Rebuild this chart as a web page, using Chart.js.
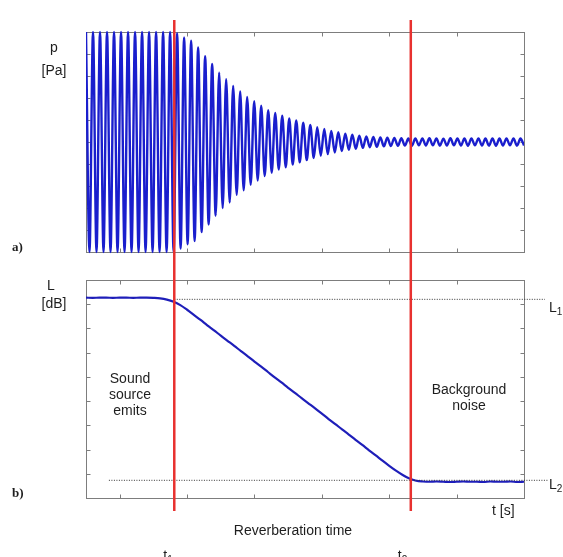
<!DOCTYPE html>
<html><head><meta charset="utf-8">
<script src="https://cdn.jsdelivr.net/npm/chart.js@4/dist/chart.umd.min.js"></script>
<style>html,body{margin:0;padding:0;background:#fff;}#wrap{position:relative;width:563px;height:557px;}</style>
</head><body><div id="wrap"><canvas id="c" width="563" height="557"></canvas></div>
<script>
// ---- data ----
const signalStep = 0.052; // time between successive extremes of p(t)
const pressureExtremes = [
 1,-1,1,-1,1,-1,1,-1,1,-1,1,-1,1,-1,1,-1,1,-1,1,-1,1,-1,1,-1,1,-1,
 0.99,-0.97,0.95,-0.93,0.92,-0.90,0.86,-0.82,0.78,-0.75,0.71,-0.67,0.63,-0.60,
 0.57,-0.55,0.51,-0.48,0.46,-0.44,0.41,-0.39,0.37,-0.35,0.33,-0.31,0.29,-0.28,
 0.265,-0.25,0.24,-0.23,0.215,-0.205,0.195,-0.185,0.175,-0.165,0.155,-0.145,
 0.135,-0.125,0.118,-0.11,0.10,-0.095,0.088,-0.082,0.076,-0.07,0.066,-0.062,
 0.058,-0.054,0.05,-0.048,0.046,-0.044,0.042,-0.04,0.038,-0.037,0.036,-0.035,0.034,
 -0.033,0.031,-0.034,0.032,-0.03,0.033,-0.032,0.034,-0.031,0.032,-0.033,0.03,
 -0.032,0.034,-0.031,0.033,-0.032,0.031,-0.034,0.032,-0.03,0.033,-0.032,0.031,
 -0.033,0.032,-0.034,0.031,-0.032,0.033,-0.03,0.032,-0.033,0.031,-0.032
];
const levelTimes = [0,0.1,0.2,0.3,0.4,0.5,0.6,0.7,0.8,0.9,1.0,1.1,1.2,1.3,1.4,1.5,1.6,1.7,1.8,1.9,
 2.0,2.1,2.2,2.3,2.4,2.5,2.6,2.7,2.8,2.9,3.0,3.1,3.2,3.3,3.4,3.5,3.6,3.7,3.8,3.9,
 4.0,4.1,4.2,4.3,4.4,4.5,4.6,4.7,4.8,4.9,5.0,5.1,5.2,5.3,5.4,5.5,5.6,5.7,5.8,5.9,
 6.0,6.1,6.2,6.3,6.4,6.5];
const levelValues = [82.7,82.6,82.7,82.7,82.6,82.7,82.7,82.6,82.7,82.7,82.6,82.4,81.9,81.0,79.6,77.7,75.6,73.5,71.3,69.2,
 67.0,64.9,62.8,60.6,58.5,56.3,54.2,52.0,49.8,47.7,45.5,43.4,41.2,39.1,37.0,34.8,32.6,30.5,28.3,26.2,
 24.0,21.9,19.7,17.6,15.4,13.3,11.3,9.5,8.0,7.1,6.8,6.7,6.8,6.7,6.6,6.7,6.8,6.7,6.7,6.6,
 6.8,6.7,6.7,6.8,6.6,6.7];
const t1 = 1.31, t2 = 4.82;          // reverberation start / end
const L1 = 82, L2 = 7.3;             // reference levels (dB)
const L1Span = [1.31, 6.81];
const L2Span = [0.34, 6.85];
const timeRange = [0, 6.5];
const pressureRange = [-1, 1];
const levelRange = [0, 90];
const timeTicks = [0.5,1.5,2.5,3.5,4.5,5.5];
const pressureTicks = [-0.8,-0.6,-0.4,-0.2,0,0.2,0.4,0.6,0.8];
const levelTicks = [10,20,30,40,50,60,70,80];

// ---- chart ----
const pressurePoints = pressureExtremes.map((v,i)=>({x:i*signalStep, y:v}));
const levelPoints = levelTimes.map((t,i)=>({x:t, y:levelValues[i]}));

const FRAME = '#7d7d7d';
const TEXT = '#1e1e1e';
const SANS = '"Liberation Sans", Arial, sans-serif';

function drawPanel(ctx, l, r, t, b, xt, yt){
  ctx.save();
  ctx.strokeStyle = FRAME; ctx.lineWidth = 1;
  const L = Math.round(l)+0.5, R = Math.round(r)+0.5, T = Math.round(t)+0.5, B = Math.round(b)+0.5;
  ctx.strokeRect(L, T, R-L, B-T);
  ctx.beginPath();
  xt.forEach(px=>{ const X=Math.round(px)+0.5; ctx.moveTo(X,T); ctx.lineTo(X,T+4); ctx.moveTo(X,B); ctx.lineTo(X,B-4); });
  yt.forEach(py=>{ const Y=Math.round(py)+0.5; ctx.moveTo(L,Y); ctx.lineTo(L+4,Y); ctx.moveTo(R,Y); ctx.lineTo(R-4,Y); });
  ctx.stroke();
  ctx.restore();
}
function sub(ctx, main, s, x, y, size){
  ctx.font = size+'px '+SANS; ctx.textAlign='left';
  ctx.fillText(main, x, y);
  const w = ctx.measureText(main).width;
  ctx.font = Math.round(size*0.7)+'px '+SANS;
  ctx.fillText(s, x+w, y+3);
}

const decor = {
  id:'decor',
  beforeDatasetsDraw(chart){
    const {ctx, scales:{x, yP, yL}} = chart;
    const l = x.getPixelForValue(timeRange[0]), r = x.getPixelForValue(timeRange[1]);
    const xt = timeTicks.map(v=>x.getPixelForValue(v));
    drawPanel(ctx, l, r, yP.getPixelForValue(pressureRange[1]), yP.getPixelForValue(pressureRange[0]), xt, pressureTicks.map(v=>yP.getPixelForValue(v)));
    drawPanel(ctx, l, r, yL.getPixelForValue(levelRange[1]), yL.getPixelForValue(levelRange[0]), xt, levelTicks.map(v=>yL.getPixelForValue(v)));
  },
  afterDraw(chart){
    const {ctx, scales:{x, yP, yL}} = chart;
    ctx.save();
    ctx.fillStyle = TEXT;
    ctx.font = '14px '+SANS; ctx.textAlign='center'; ctx.textBaseline='alphabetic';
    ctx.fillText('p', 54, 52);
    ctx.fillText('[Pa]', 54, 75);
    ctx.fillText('L', 51, 290);
    ctx.fillText('[dB]', 54, 308);
    ctx.fillText('Sound', 130, 383);
    ctx.fillText('source', 130, 399);
    ctx.fillText('emits', 130, 415);
    ctx.fillText('Background', 469, 394);
    ctx.fillText('noise', 469, 410);
    ctx.fillText('Reverberation time', 293, 535);
    ctx.textAlign='left';
    ctx.fillText('t [s]', 492, 515);
    sub(ctx, 'L', '1', 549, yL.getPixelForValue(L1)+13, 14);
    sub(ctx, 'L', '2', 549, yL.getPixelForValue(L2)+9, 14);
    sub(ctx, 't', '1', x.getPixelForValue(t1)-11, 560, 14);
    sub(ctx, 't', '2', x.getPixelForValue(t2)-13, 560, 14);
    ctx.font = 'bold 13px "Liberation Serif", "Times New Roman", serif';
    ctx.textAlign='left';
    ctx.fillText('a)', 12, 251);
    ctx.fillText('b)', 12, 497);
    ctx.restore();
  }
};

new Chart(document.getElementById('c'), {
  type:'line',
  data:{ datasets:[
    { label:'t1', data:[{x:t1,y:-5.37},{x:t1,y:197.3}], yAxisID:'yL', borderColor:'#e8312f', borderWidth:2.5, pointRadius:0, tension:0 },
    { label:'t2', data:[{x:t2,y:-5.37},{x:t2,y:197.3}], yAxisID:'yL', borderColor:'#e8312f', borderWidth:2.5, pointRadius:0, tension:0 },
    { label:'L1', data:[{x:L1Span[0],y:L1},{x:L1Span[1],y:L1}], yAxisID:'yL', borderColor:'#333', borderWidth:1, borderDash:[1,1.5], pointRadius:0, clip:false },
    { label:'L2', data:[{x:L2Span[0],y:L2},{x:L2Span[1],y:L2}], yAxisID:'yL', borderColor:'#333', borderWidth:1, borderDash:[1,1.5], pointRadius:0, clip:false },
    { label:'L', data:levelPoints, yAxisID:'yL', borderColor:'rgb(30,30,185)', borderWidth:2.2, pointRadius:0, cubicInterpolationMode:'monotone' },
    { label:'p', data:pressurePoints, yAxisID:'yP', borderColor:'rgb(26,30,205)', borderWidth:2.4, pointRadius:0, cubicInterpolationMode:'monotone' }
  ]},
  options:{
    responsive:false, animation:false, devicePixelRatio:1,
    layout:{ padding:{ left:86, right:39, top:20, bottom:46 } },
    plugins:{ legend:{display:false}, tooltip:{enabled:false} },
    scales:{
      x:{ type:'linear', min:timeRange[0], max:timeRange[1], display:false },
      yP:{ type:'linear', min:-3.355, max:1.109, display:false },
      yL:{ type:'linear', min:-5.37, max:197.3, display:false }
    }
  },
  plugins:[decor]
});
</script></body></html>
